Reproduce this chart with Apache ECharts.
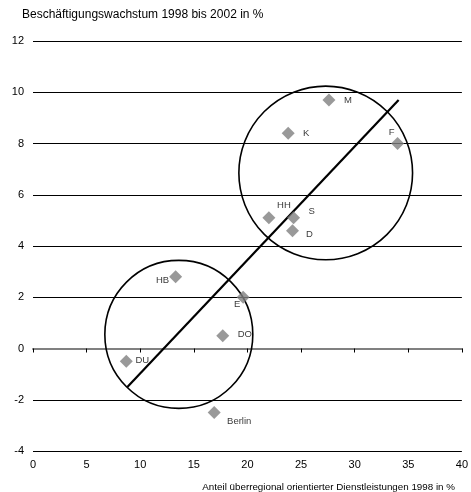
<!DOCTYPE html>
<html>
<head>
<meta charset="utf-8">
<script src="https://cdn.jsdelivr.net/npm/echarts@6/dist/echarts.min.js"></script>
<style>html,body{margin:0;padding:0;background:#fff;}#c{width:471px;height:492px;}</style>
</head>
<body>
<div id="c"></div>
<script>
// ---- data ----
var cities = ['M', 'K', 'F', 'HH', 'S', 'D', 'HB', 'E', 'DO', 'DU', 'Berlin'];
var serviceShare = [27.6, 23.8, 34.0, 22.0, 24.3, 24.2, 13.3, 19.6, 17.7, 8.7, 16.9];
var employmentGrowth = [9.7, 8.4, 8.0, 5.1, 5.1, 4.6, 2.8, 2.0, 0.5, -0.5, -2.5];
var trendLine = [[8.8, -1.5], [34.1, 9.7]];
// clusters: [centerX, centerY, radius in x-axis units]
var clusters = [[13.6, 0.55, 6.9], [27.3, 6.85, 8.1]];
var xTicks = [0, 5, 10, 15, 20, 25, 30, 35, 40];
var yTicks = [-4, -2, 0, 2, 4, 6, 8, 10, 12];
var titleText = 'Beschäftigungswachstum 1998 bis 2002 in %';
var xAxisName = 'Anteil überregional orientierter Dienstleistungen 1998 in %';

// ---- label placement (style) ----
var labelOffsets = {
  'M': [19, 0], 'K': [18, 0], 'F': [-6, -11], 'HH': [15, -12], 'S': [18, -6],
  'D': [17, 4], 'HB': [-13, 4], 'E': [-6, 7], 'DO': [22, -1], 'DU': [16, -1], 'Berlin': [25, 9]
};

var font = 'Liberation Sans, Arial, sans-serif';
var points = cities.map(function (n, i) {
  return {
    name: n,
    value: [serviceShare[i], employmentGrowth[i]],
    label: { offset: labelOffsets[n] }
  };
});

var chart = echarts.init(document.getElementById('c'));
chart.setOption({
  animation: false,
  backgroundColor: '#fff',
  title: [
    { text: titleText, left: 17, top: 4, textStyle: { fontFamily: font, fontSize: 12, fontWeight: 'normal', color: '#000' } },
    { text: xAxisName, right: 16, bottom: 0, padding: 0, textStyle: { fontFamily: font, fontSize: 9.8, fontWeight: 'normal', color: '#000' } }
  ],
  grid: { left: 33, right: 8, top: 41, bottom: 41 },
  xAxis: [
    {
      type: 'value', min: xTicks[0], max: xTicks[xTicks.length - 1], interval: 5,
      axisLine: { show: false, onZero: false }, axisTick: { show: false },
      splitLine: { show: false },
      axisLabel: { margin: 8, fontFamily: font, fontSize: 11, color: '#000' }
    },
    {
      type: 'value', position: 'bottom', min: xTicks[0], max: xTicks[xTicks.length - 1], interval: 5,
      axisLine: { show: true, onZero: true, lineStyle: { color: '#808080', width: 2 } },
      axisTick: { show: true, length: 4, lineStyle: { color: '#000', width: 1 } },
      axisLabel: { show: false }, splitLine: { show: false }
    }
  ],
  yAxis: {
    type: 'value', min: yTicks[0], max: yTicks[yTicks.length - 1], interval: 2,
    axisLine: { show: false }, axisTick: { show: false },
    splitLine: { show: true, lineStyle: { color: '#000', width: 1 } },
    axisLabel: { margin: 9, fontFamily: font, fontSize: 11, color: '#000' }
  },
  series: [
    {
      type: 'custom',
      xAxisIndex: 0,
      data: clusters,
      silent: true,
      z: 3,
      renderItem: function (params, api) {
        var c = api.coord([api.value(0), api.value(1)]);
        var r = api.size([api.value(2), 0])[0];
        return {
          type: 'circle',
          shape: { cx: c[0], cy: c[1], r: r },
          style: { fill: 'none', stroke: '#000', lineWidth: 1.6 }
        };
      }
    },
    {
      type: 'line',
      xAxisIndex: 0,
      data: trendLine,
      symbol: 'none',
      lineStyle: { color: '#000', width: 2.2 },
      z: 4
    },
    {
      type: 'scatter',
      xAxisIndex: 0,
      data: points,
      symbol: 'diamond',
      symbolSize: 13,
      itemStyle: { color: '#808080' },
      z: 5,
      label: {
        show: true, position: 'inside', formatter: '{b}',
        fontFamily: font, fontSize: 9.5, color: '#000'
      }
    }
  ]
});
</script>
</body>
</html>
